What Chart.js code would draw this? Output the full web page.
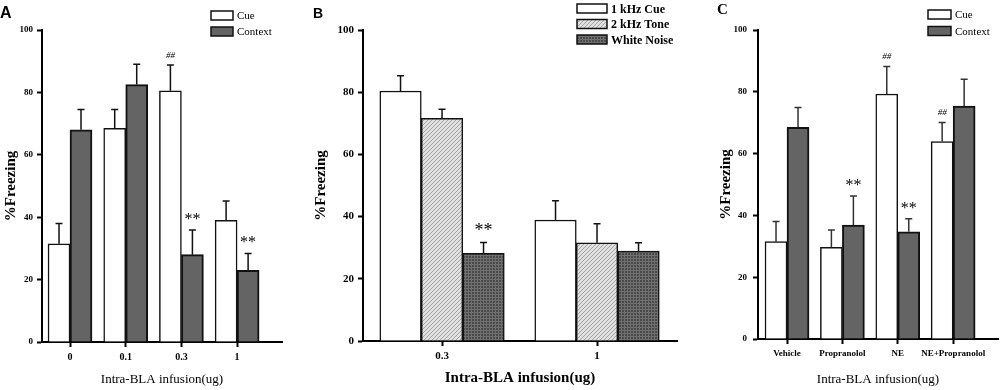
<!DOCTYPE html>
<html>
<head>
<meta charset="utf-8">
<script src="https://cdn.jsdelivr.net/npm/chart.js@4.4.1/dist/chart.umd.min.js"></script>
<style>
  body { margin: 0; background: #fff; }
  #wrap { position: relative; width: 1000px; height: 390px; overflow: hidden; }
  .panel { position: absolute; top: 0; }
  .letter { position: absolute; line-height: 1; color: #000; font-weight: bold; }
</style>
</head>
<body>
<div id="wrap">
  <canvas class="panel" id="chartA" width="300" height="390" style="left:0"></canvas>
  <canvas class="panel" id="chartB" width="400" height="390" style="left:300px"></canvas>
  <canvas class="panel" id="chartC" width="300" height="390" style="left:700px"></canvas>
  <div class="letter" style="left:0;top:5px;font-family:'Liberation Sans';font-size:16px">A</div>
  <div class="letter" style="left:313px;top:6px;font-family:'Liberation Sans';font-size:14px">B</div>
  <div class="letter" style="left:717px;top:2px;font-family:'Liberation Serif';font-size:15px">C</div>
</div>
<script>
// panel A
const groupsA = ['0', '0.1', '0.3', '1'];
const cueA = [31.5, 68.5, 80.5, 39];
const cueErrA = [6.5, 6, 8.3, 6.2];
const cueMarksA = ['', '', '##', ''];
const contextA = [68, 82.5, 28, 23];
const contextErrA = [6.5, 6.5, 7.9, 5.4];
const contextMarksA = ['', '', '**', '**'];

// panel B
const groupsB = ['0.3', '1'];
const cueB = [80.4, 38.9];
const cueErrB = [4.9, 6.2];
const toneB = [71.6, 31.6];
const toneErrB = [2.9, 6.1];
const noiseB = [28.2, 28.9];
const noiseErrB = [3.5, 2.7];
const noiseMarksB = ['**', ''];

// panel C
const groupsC = ['Vehicle', 'Propranolol', 'NE', 'NE+Propranolol'];
const cueC = [31.5, 29.7, 79.3, 63.9];
const cueErrC = [6.5, 5.6, 8.9, 6.2];
const cueMarksC = ['', '', '##', '##'];
const contextC = [68.5, 36.9, 34.7, 75.4];
const contextErrC = [6.4, 9.4, 4.2, 8.7];
const contextMarksC = ['', '**', '**', ''];

const yTicks = [0, 20, 40, 60, 80, 100];

const SERIF = "'Liberation Serif', 'Times New Roman', serif";
Chart.defaults.color = '#000';

// patterns for the tone / noise bars
function diagonalHatch() {
  const c = document.createElement('canvas');
  c.width = 4; c.height = 4;
  const g = c.getContext('2d');
  g.fillStyle = '#e0e0e0';
  g.fillRect(0, 0, 4, 4);
  g.strokeStyle = '#a4a4a4';
  g.lineWidth = 1;
  g.beginPath();
  g.moveTo(0, 4); g.lineTo(4, 0);
  g.moveTo(-1, 1); g.lineTo(1, -1);
  g.moveTo(3, 5); g.lineTo(5, 3);
  g.stroke();
  return g.createPattern(c, 'repeat');
}
function gridHatch() {
  const c = document.createElement('canvas');
  c.width = 3; c.height = 3;
  const g = c.getContext('2d');
  g.fillStyle = '#4a4a4a';
  g.fillRect(0, 0, 3, 3);
  g.fillStyle = '#707070';
  g.fillRect(0, 0, 3, 1);
  g.fillRect(0, 0, 1, 3);
  return g.createPattern(c, 'repeat');
}

// error bars (upper half only) + significance marks
const errBars = {
  id: 'errBars',
  afterDatasetsDraw(chart, args, o) {
    const ctx = chart.ctx, yS = chart.scales.y;
    chart.data.datasets.forEach((ds, d) => {
      chart.getDatasetMeta(d).data.forEach((bar, i) => {
        const top = yS.getPixelForValue(ds.data[i].y + ds.errors[i]);
        ctx.save();
        ctx.strokeStyle = o.color;
        ctx.lineWidth = 1.5;
        ctx.beginPath();
        ctx.moveTo(bar.x, bar.y);
        ctx.lineTo(bar.x, top);
        ctx.moveTo(bar.x - o.cap / 2, top);
        ctx.lineTo(bar.x + o.cap / 2, top);
        ctx.stroke();
        const m = ds.marks && ds.marks[i];
        if (m) {
          ctx.fillStyle = '#000';
          ctx.textAlign = 'center';
          ctx.textBaseline = 'alphabetic';
          if (m === '##') {
            ctx.font = 'italic 9px ' + SERIF;
            ctx.fillText(m, bar.x, top - 7);
          } else {
            ctx.font = o.starSize + 'px ' + SERIF;
            ctx.fillText(m, bar.x, top - 6);
          }
        }
        ctx.restore();
      });
    });
  }
};

// legend boxes drawn at a fixed spot
const boxLegend = {
  id: 'boxLegend',
  afterDraw(chart, args, o) {
    const ctx = chart.ctx;
    chart.data.datasets.forEach((ds, k) => {
      const y = o.y + k * o.gap;
      ctx.save();
      ctx.fillStyle = ds.backgroundColor;
      ctx.fillRect(o.x, y, o.w, o.h);
      ctx.strokeStyle = '#111';
      ctx.lineWidth = 1.5;
      ctx.strokeRect(o.x, y, o.w, o.h);
      ctx.fillStyle = '#000';
      ctx.font = o.font;
      ctx.textBaseline = 'middle';
      ctx.fillText(ds.label, o.x + o.w + 4, y + o.h / 2 + 1);
      ctx.restore();
    });
  }
};

function makeChart(id, p) {
  const labels = p.labels;
  return new Chart(document.getElementById(id), {
    type: 'bar',
    data: {
      datasets: p.series.map(s => ({
        label: s.label,
        data: s.values.map((v, i) => ({ x: i, y: v })),
        errors: s.errors,
        marks: s.marks,
        backgroundColor: s.fill,
        borderColor: '#111',
        borderWidth: s.bw,
        borderSkipped: 'bottom',
        barThickness: p.barW
      }))
    },
    options: {
      animation: false,
      responsive: false,
      devicePixelRatio: 1,
      layout: { padding: { left: 0, top: p.top, right: p.width - p.right, bottom: 0 } },
      plugins: {
        legend: { display: false },
        tooltip: { enabled: false },
        errBars: { cap: 7, color: p.errColor, starSize: p.starSize },
        boxLegend: p.legend
      },
      scales: {
        x: {
          type: 'linear',
          min: p.xMin,
          max: p.xMax,
          offset: false,
          afterBuildTicks: s => { s.ticks = labels.map((_, i) => ({ value: i })); },
          afterFit: s => { s.height = 390 - p.bottom; },
          grid: { display: true, offset: false, drawOnChartArea: false, drawTicks: true, tickLength: 5, tickWidth: 2, tickColor: '#000' },
          border: { display: true, color: '#000', width: 2 },
          ticks: {
            callback: v => labels[v],
            autoSkip: false, maxRotation: 0, padding: 4,
            font: { family: SERIF, size: p.xTickSize, weight: 'bold' }
          },
          title: {
            display: true, text: 'Intra-BLA infusion(ug)',
            font: { family: SERIF, size: p.xTitleSize, weight: p.xTitleWeight },
            padding: { top: 0, bottom: 3 }
          }
        },
        y: {
          min: 0, max: 100,
          afterBuildTicks: s => { s.ticks = yTicks.map(v => ({ value: v })); },
          afterFit: s => { s.width = p.left; },
          grid: { display: true, drawOnChartArea: false, drawTicks: true, tickLength: 5, tickWidth: 2, tickColor: '#000' },
          border: { display: true, color: '#000', width: 2 },
          ticks: { padding: p.yTickPad, font: { family: SERIF, size: p.yTickSize, weight: 'bold' } },
          title: {
            display: true, text: '%Freezing',
            font: { family: SERIF, size: 15, weight: 'bold' },
            padding: { top: p.yTitlePad, bottom: 0 }
          }
        }
      }
    },
    plugins: [errBars, boxLegend]
  });
}

const contextGray = '#646464';

makeChart('chartA', {
  labels: groupsA, width: 300, left: 42, right: 282, top: 30, bottom: 342,
  xMin: -0.503, xMax: 3.806, barW: 22,
  xTickSize: 10, yTickSize: 9, yTickPad: 4, xTitleSize: 13, xTitleWeight: 'normal', yTitlePad: 2,
  errColor: '#111', starSize: 16,
  legend: { x: 211, y: 11, w: 22, h: 9, gap: 16, font: '11px ' + SERIF },
  series: [
    { label: 'Cue', values: cueA, errors: cueErrA, marks: cueMarksA, fill: '#fff', bw: 1.5 },
    { label: 'Context', values: contextA, errors: contextErrA, marks: contextMarksA, fill: contextGray, bw: 2 }
  ]
});

makeChart('chartB', {
  labels: groupsB, width: 400, left: 63, right: 377, top: 30, bottom: 341,
  xMin: -0.51, xMax: 1.516, barW: 41.5,
  xTickSize: 11, yTickSize: 11, yTickPad: 4, xTitleSize: 15, xTitleWeight: 'bold', yTitlePad: 12,
  errColor: '#111', starSize: 18,
  legend: { x: 277, y: 4, w: 30, h: 9, gap: 15.5, font: 'bold 12px ' + SERIF },
  series: [
    { label: '1 kHz Cue', values: cueB, errors: cueErrB, fill: '#fff', bw: 1.5 },
    { label: '2 kHz Tone', values: toneB, errors: toneErrB, fill: diagonalHatch(), bw: 1.5 },
    { label: 'White Noise', values: noiseB, errors: noiseErrB, marks: noiseMarksB, fill: gridHatch(), bw: 1.5 }
  ]
});

makeChart('chartC', {
  labels: groupsC, width: 300, left: 58, right: 298, top: 30, bottom: 339,
  xMin: -0.524, xMax: 3.81, barW: 22,
  xTickSize: 9, yTickSize: 9, yTickPad: 6, xTitleSize: 13, xTitleWeight: 'normal', yTitlePad: 17,
  errColor: '#333', starSize: 16,
  legend: { x: 228, y: 10, w: 23, h: 9, gap: 16.5, font: '11px ' + SERIF },
  series: [
    { label: 'Cue', values: cueC, errors: cueErrC, marks: cueMarksC, fill: '#fff', bw: 1.5 },
    { label: 'Context', values: contextC, errors: contextErrC, marks: contextMarksC, fill: contextGray, bw: 2 }
  ]
});
</script>
</body>
</html>
